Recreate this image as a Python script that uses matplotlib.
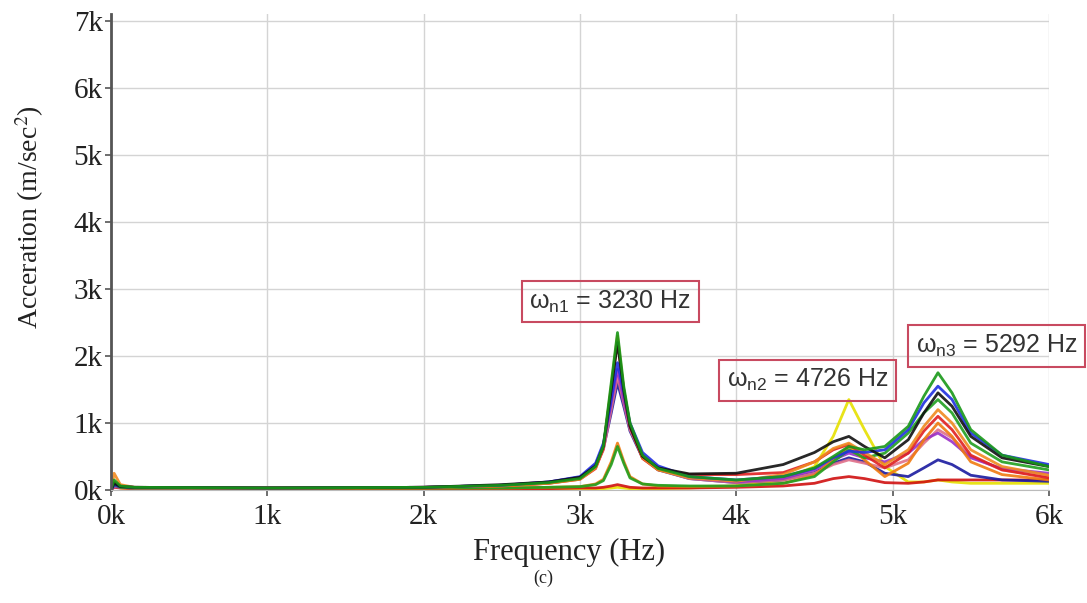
import matplotlib
matplotlib.use('Agg')
import matplotlib.pyplot as plt

plt.rcParams['mathtext.fontset'] = 'custom'
plt.rcParams['mathtext.rm'] = 'Liberation Sans'
plt.rcParams['mathtext.it'] = 'Liberation Sans'

# frequency grid (Hz) shared by all measured curves
freq = [0, 20, 60, 150, 1000, 2000, 2500, 2800, 3000, 3100, 3150, 3200, 3240, 3280, 3320, 3400,
        3500, 3700, 4000, 4300, 4500, 4620, 4720, 4820, 4950, 5100, 5200, 5290, 5380, 5500, 5700, 6000]

# acceleration (m/sec^2), one list per curve
green1 = [0, 150, 60, 40, 30, 40, 70, 110, 170, 350, 660, 1600, 2350, 1550, 1000, 520,
          320, 200, 150, 200, 330, 500, 650, 600, 650, 950, 1400, 1750, 1450, 900, 520, 350]
black1 = [0, 100, 50, 40, 30, 40, 80, 120, 190, 360, 650, 1500, 2200, 1500, 950, 500,
          330, 240, 250, 380, 560, 720, 800, 650, 480, 750, 1150, 1450, 1250, 800, 480, 350]
orange1 = [0, 250, 80, 40, 30, 40, 60, 100, 160, 330, 640, 1550, 2300, 1500, 980, 480,
           300, 180, 130, 230, 420, 620, 700, 560, 380, 600, 950, 1200, 1000, 600, 350, 220]
red1 = [0, 120, 60, 40, 30, 40, 60, 100, 160, 320, 620, 1500, 2250, 1450, 950, 470,
        300, 230, 230, 260, 420, 600, 680, 520, 330, 550, 880, 1100, 900, 520, 300, 180]
blue1 = [0, 80, 50, 40, 30, 40, 70, 120, 200, 400, 700, 1350, 1900, 1450, 1000, 560,
         360, 200, 150, 200, 320, 480, 580, 560, 600, 900, 1300, 1550, 1350, 850, 520, 380]
purple1 = [0, 60, 40, 30, 30, 40, 70, 120, 190, 380, 660, 1300, 1800, 1350, 950, 520,
           330, 180, 120, 170, 300, 450, 550, 480, 420, 550, 750, 850, 720, 480, 320, 250]
navy1 = [0, 60, 40, 30, 30, 40, 70, 110, 180, 360, 620, 1150, 1600, 1250, 880, 480,
         300, 170, 110, 150, 260, 400, 480, 420, 250, 200, 330, 450, 380, 220, 150, 130]
pink1 = [0, 50, 40, 30, 30, 40, 60, 100, 170, 340, 600, 1200, 1700, 1300, 900, 500,
         310, 170, 110, 150, 250, 380, 450, 400, 330, 450, 700, 900, 780, 500, 300, 200]
green2 = [0, 80, 40, 30, 30, 30, 30, 40, 50, 80, 140, 380, 650, 400, 180, 90,
          70, 60, 60, 100, 200, 420, 600, 480, 550, 850, 1150, 1350, 1150, 700, 420, 300]
orange2 = [0, 100, 40, 30, 30, 30, 30, 40, 50, 90, 160, 420, 700, 430, 200, 90,
           60, 50, 60, 100, 220, 450, 650, 450, 200, 400, 750, 1000, 800, 420, 230, 150]
yellow1 = [0, 60, 30, 20, 20, 20, 20, 20, 20, 20, 20, 30, 40, 30, 20, 20,
           20, 30, 60, 150, 350, 800, 1350, 900, 350, 120, 120, 150, 120, 100, 100, 100]
red2 = [0, 40, 30, 20, 20, 20, 20, 20, 30, 30, 40, 60, 80, 60, 40, 30,
        30, 30, 40, 60, 100, 170, 200, 170, 110, 100, 120, 150, 150, 150, 150, 150]

curves = [
    (yellow1, '#e6e000'),
    (red2, '#d01010'),
    (navy1, '#1a1aa0'),
    (pink1, '#e0708a'),
    (purple1, '#9a30c8'),
    (orange2, '#f07a10'),
    (green2, '#20a020'),
    (red1, '#e02020'),
    (orange1, '#f08a20'),
    (blue1, '#2030e0'),
    (black1, '#101010'),
    (green1, '#189818'),
]

xticks = [0, 1000, 2000, 3000, 4000, 5000, 6000]
xticklabels = ['0k', '1k', '2k', '3k', '4k', '5k', '6k']
yticks = [0, 1000, 2000, 3000, 4000, 5000, 6000, 7000]
yticklabels = ['0k', '1k', '2k', '3k', '4k', '5k', '6k', '7k']

fig = plt.figure(figsize=(10.87, 6.03), dpi=100)
ax = fig.add_axes([0.1021, 0.1874, 0.8629, 0.7889])

for vals, col in curves:
    ax.plot(freq, vals, color=col, lw=2, alpha=0.9)

ax.set_xlim(0, 6000)
ax.set_ylim(0, 7100)
ax.set_xticks(xticks)
ax.set_xticklabels(xticklabels, family='Liberation Serif', fontsize=21, color='#222222')
ax.set_yticks(yticks)
ax.set_yticklabels(yticklabels, family='Liberation Serif', fontsize=21, color='#222222')
ax.tick_params(axis='both', length=4, width=1.2, color='#555555')
ax.tick_params(axis='x', pad=6)
ax.tick_params(axis='y', pad=2)
ax.grid(True, color='#d4d4d4', lw=1)
ax.set_axisbelow(True)

for s in ['top', 'right']:
    ax.spines[s].set_visible(False)
ax.spines['left'].set_color('#555555')
ax.spines['left'].set_linewidth(2)
ax.spines['bottom'].set_color('#bbbbbb')

ax.set_xlabel('Frequency (Hz)', family='Liberation Serif', fontsize=22, color='#222222')
ax.xaxis.set_label_coords((569 - 111) / 938, -(553 - 490) / 476, transform=ax.transAxes)
ax.xaxis.label.set_va('center')
ax.set_ylabel('Acceration (m/sec$^2$)', family='Liberation Serif', fontsize=20, color='#222222')
ax.yaxis.label.set_math_fontfamily('stix')
ax.yaxis.set_label_coords(-(111 - 30) / 938, (490 - 217) / 476, transform=ax.transAxes)
ax.yaxis.label.set_va('center')

box = dict(boxstyle='square,pad=0.3', fc='none', ec='#c84a60', lw=1.5)
ax.text(3195, 2810, r'$\omega_{\mathrm{n1}}$ = 3230 Hz', fontsize=18, family='Liberation Sans',
        ha='center', va='center', color='#333333', bbox=box)
ax.text(4455, 1640, r'$\omega_{\mathrm{n2}}$ = 4726 Hz', fontsize=18, family='Liberation Sans',
        ha='center', va='center', color='#333333', bbox=box)
ax.text(5665, 2150, r'$\omega_{\mathrm{n3}}$ = 5292 Hz', fontsize=18, family='Liberation Sans',
        ha='center', va='center', color='#333333', bbox=box, clip_on=False)

fig.text(543 / 1087, 1 - 578 / 603, '(c)', family='Liberation Serif', fontsize=13,
         ha='center', va='center', color='#222222')

fig.savefig('out.png', dpi=100)
